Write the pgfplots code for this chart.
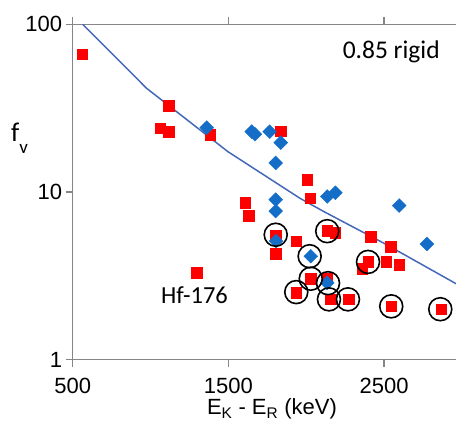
\documentclass[border=0pt]{standalone}
\usepackage{pgfplots}
\pgfplotsset{compat=1.18}
\usepackage{fontspec}
\setmainfont{Liberation Sans}
\newfontfamily\calib{Carlito}

\definecolor{axgray}{RGB}{134,134,134}
\definecolor{ptred}{RGB}{255,0,0}
\definecolor{ptblue}{RGB}{20,110,200}
\definecolor{fitblue}{RGB}{68,104,184}

% red squares: measured hindrance factors
\pgfplotstableread{
E     f
560   66.2
1118  32.6
1061  24.0
1118  22.9
1382  21.9
1836  23.1
2007  11.8
2026  9.2
1609  8.6
1632  7.2
1804  5.5
1804  4.3
1936  5.1
2135  5.9
2187  5.7
2414  5.4
2542  4.7
2397  3.83
2360  3.5
2514  3.83
2596  3.7
2029  3.04
1936  2.51
2135  3.07
2157  2.29
2273  2.29
2546  2.08
2867  2.0
1296  3.29
}\redpts

% blue diamonds
\pgfplotstableread{
E     f
1361  24.2
1650  22.9
1671  22.1
1765  22.9
1836  19.7
1804  14.9
1804  9.0
1804  7.7
2135  9.4
2187  9.9
2597  8.3
1806  5.1
2029  4.14
2135  2.87
2775  4.9
}\bluepts

% circled cases
\pgfplotstableread{
E     f
1804  5.56
2135  5.84
2022  4.14
2397  3.83
2029  3.04
1936  2.53
2140  2.86
2146  2.29
2268  2.29
2546  2.08
2861  2.0
}\circpts

% 0.85 rigid-rotor estimate
\pgfplotstableread{
E     f
564   100
975   41.5
1497  17.4
1960  9.17
2118  7.6
2504  4.92
2962  2.84
}\rigid

\begin{document}
\begin{tikzpicture}
\useasboundingbox (0pt,0pt) rectangle (456pt,425pt);
\begin{axis}[
  at={(72.7pt,65.3pt)}, anchor=south west,
  scale only axis, width=383.3pt, height=335.4pt,
  xmin=500, xmax=2962, ymin=1, ymax=100, ymode=log,
  xtick={500,1500,2500}, ytick={1,10,100}, yticklabels={1,10,100},
  yminorticks=false, xminorticks=false,
  tick align=outside, major tick length=7pt,
  axis y line*=left, axis x line*=box,
  x axis line style={-}, y axis line style={-},
  axis line style={draw=axgray, line width=1.3pt},
  tick style={draw=axgray, line width=1.3pt},
  ticklabel style={font=\fontsize{22}{24}\selectfont},
  /pgf/number format/assume math mode=true,
  xticklabel style={/pgf/number format/1000 sep={}, yshift=-8pt},
]
\addplot[color=fitblue, line width=1.5pt, mark=none] table[x=E,y=f] {\rigid};
\addplot[only marks, mark=square*, mark size=5.3pt, color=ptred] table[x=E,y=f] {\redpts};
\addplot[only marks, mark=square*, mark size=4.9pt, color=ptblue, mark options={rotate=45}] table[x=E,y=f] {\bluepts};
\addplot[only marks, mark=o, mark size=11.5pt, mark options={draw=black, line width=1.6pt}] table[x=E,y=f] {\circpts};
\node[font=\calib\fontsize{25.5}{27}\selectfont] at (axis cs:2546,68.7) {0.85 rigid};
\node[font=\calib\fontsize{24.5}{26}\selectfont] at (axis cs:1282,2.43) {Hf-176};
\end{axis}
\node[anchor=base west, inner sep=0pt] at (11pt,283pt) {\calib\fontsize{27}{28}\selectfont f\raisebox{-12pt}{\fontsize{19}{20}\selectfont v}};
\node[anchor=base, inner sep=0pt, font=\fontsize{22}{24}\selectfont] at (272pt,10pt) {E\textsubscript{K} - E\textsubscript{R} (keV)};
\end{tikzpicture}
\end{document}
